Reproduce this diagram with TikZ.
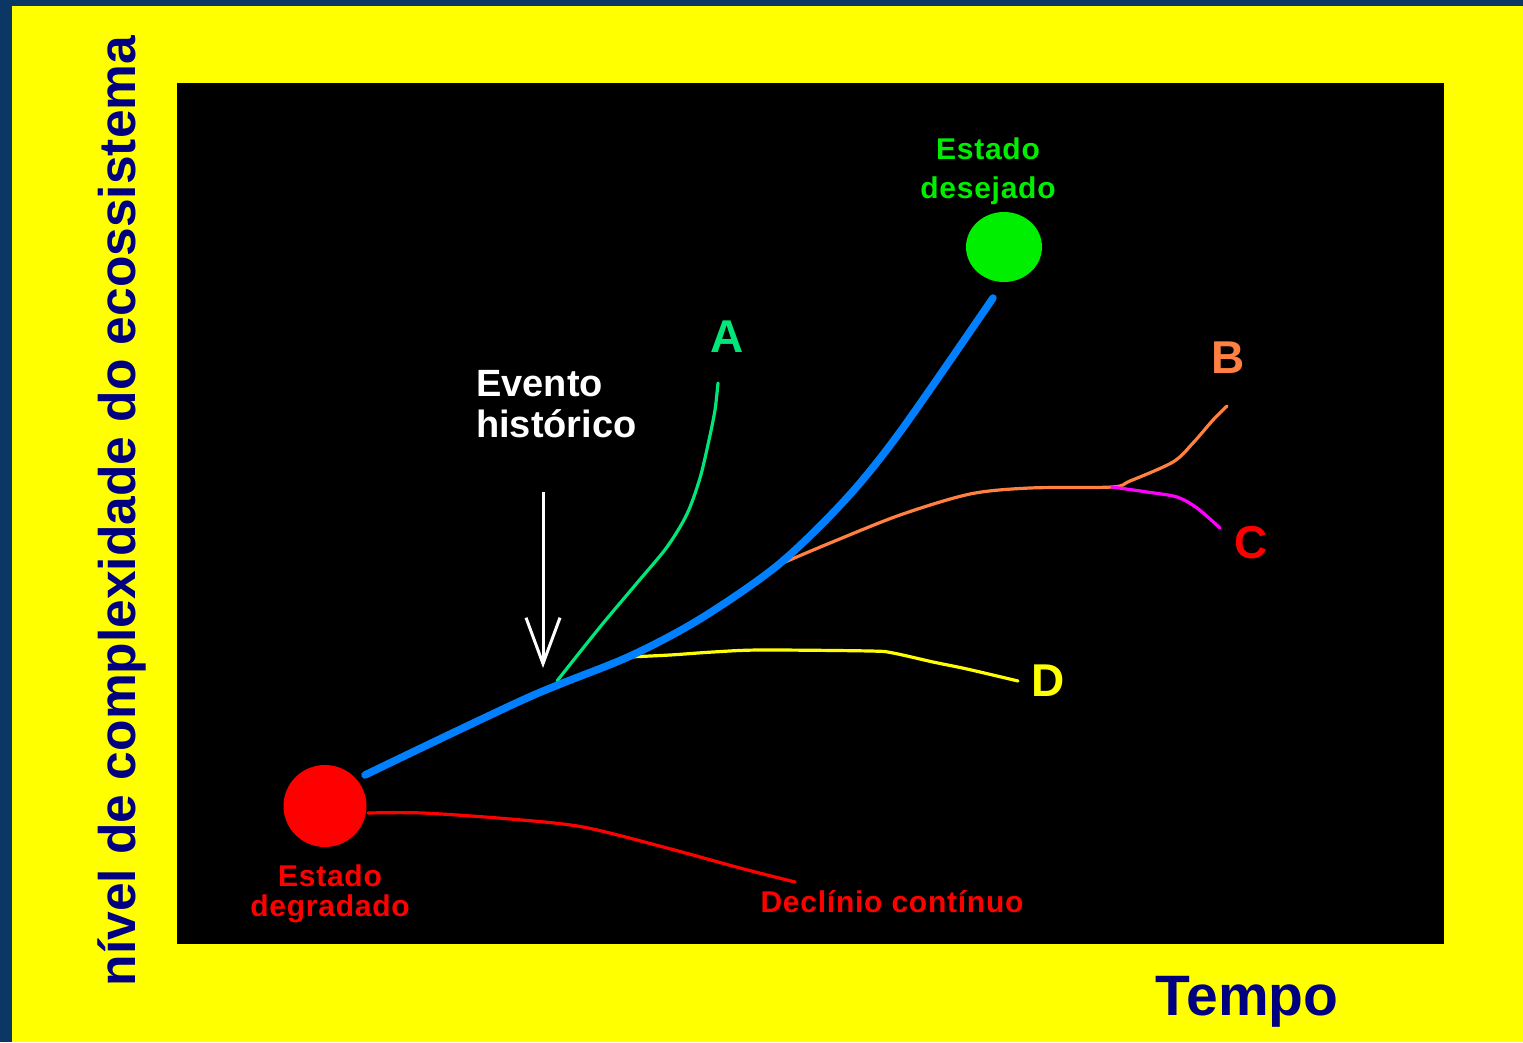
\documentclass[tikz,border=0pt]{standalone}
\usepackage{fontspec}
\setmainfont{Liberation Sans}
\usetikzlibrary{arrows.meta,shapes.geometric}
\definecolor{framenavy}{RGB}{11,55,100}
\definecolor{axisnavy}{RGB}{0,0,128}
\definecolor{bgyellow}{RGB}{255,255,0}
\definecolor{trunkblue}{RGB}{0,128,255}
\definecolor{pathgreen}{RGB}{0,230,120}
\definecolor{goalgreen}{RGB}{0,238,0}
\definecolor{pathorange}{RGB}{255,128,64}
\definecolor{pathmagenta}{RGB}{255,0,255}
\definecolor{pathred}{RGB}{255,0,0}

\begin{document}
\begin{tikzpicture}[x=1pt, y=-1pt,
  state/.style={ellipse, inner sep=0pt},
  lbl/.style={inner sep=0pt, align=center, font=\fontsize{30}{30}\selectfont\bfseries\addfontfeature{LetterSpace=2.5}},
  letter/.style={inner sep=0pt, font=\fontsize{46}{46}\selectfont\bfseries},
  axislbl/.style={inner sep=0pt, axisnavy, font=\bfseries},
  branch/.style={line width=3.2pt, line cap=round},
  trunk/.style={line width=7.5pt, trunkblue, line cap=round},
  evarrow/.style={white, line width=3pt, -{Straight Barb[length=46pt, width=34pt, line width=3pt]}}
]
\useasboundingbox (0,0) rectangle (1523,1042);
\fill[framenavy] (0,0) rectangle (1523,1042);
\fill[bgyellow] (12,5.5) rectangle (1523,1042);
\fill[black] (177,83) rectangle (1444,944);

% axes
\node[axislbl, rotate=90, anchor=base, font=\fontsize{51.5}{52}\selectfont\bfseries] (ylbl) at (135,511) {nível de complexidade do ecossistema};
\node[axislbl, anchor=base, font=\fontsize{57}{57}\selectfont\bfseries] (xlbl) at (1247,1015) {Tempo};

% states
\node[state, fill=pathred, minimum width=83pt, minimum height=82pt] (degraded) at (325,806) {};
\node[state, fill=goalgreen, minimum width=76pt, minimum height=70pt] (desired) at (1004,247) {};
\node[lbl, pathred, anchor=north] (degradedlbl) at (330,865) {Estado\\degradado};
\node[lbl, goalgreen, anchor=north, font=\fontsize{30}{39}\selectfont\bfseries\addfontfeature{LetterSpace=2.5}] (desiredlbl) at (988,138) {Estado\\desejado};
\node[lbl, pathred, anchor=base] (declinelbl) at (892,912) {Declínio contínuo};
\node[inner sep=0pt, white, align=left, anchor=north west, font=\fontsize{38}{41}\selectfont\bfseries] (event) at (476,370) {Evento\\histórico};

% branch letters
\node[letter, pathgreen] (A) at (727,337) {A};
\node[letter, pathorange] (B) at (1228,358) {B};
\node[letter, pathred] (C) at (1251,543) {C};
\node[letter, bgyellow] (D) at (1048,681) {D};

% branching points
\coordinate (trunkstart) at (365,775);
\coordinate (trunkend) at (993,298);
\coordinate (hist) at (557,681);
\coordinate (forkD) at (628,657);
\coordinate (forkB) at (778,565);
\coordinate (forkC) at (1112,487);
\coordinate (declinestart) at (368,813);
\coordinate (arrtop) at (543,492);
\coordinate (arrtip) at (543,668);

\draw[branch, pathred] plot[smooth] coordinates {(declinestart) (423,813) (510,819) (583,827) (667,848) (740,868) (795,882)};
\draw[branch, pathgreen] plot[smooth] coordinates {(hist) (600,627) (637,583) (667,547) (687,514) (700,478) (709,440) (715,410) (718,383)};
\draw[branch, bgyellow] plot[smooth] coordinates {(forkD) (670,655) (713,652) (760,650) (870,651) (893,653) (933,662) (967,669) (1018,681)};
\draw[branch, pathorange] plot[smooth] coordinates {(forkB) (830,543) (900,515) (970,494) (1030,488) (forkC) (1130,481) (1173,462) (1193,443) (1213,420) (1227,406)};
\draw[branch, pathmagenta] plot[smooth] coordinates {(forkC) (1147,492) (1177,497) (1197,508) (1220,528)};
\draw[trunk] plot[smooth] coordinates {(trunkstart) (527,698) (forkD) (700,619) (forkB) (845,500) (900,432) (trunkend)};

\draw[evarrow] (arrtop) -- (arrtip);
\end{tikzpicture}
\end{document}
